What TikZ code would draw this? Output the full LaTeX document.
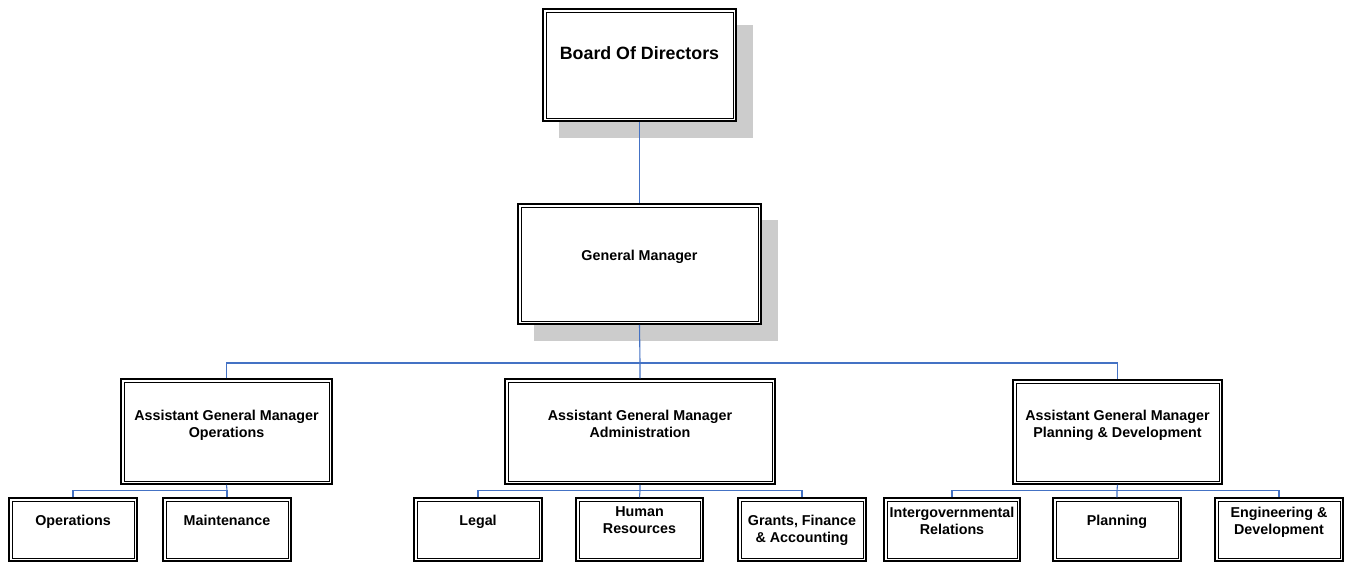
\documentclass[tikz,border=0pt]{standalone}
\usepackage{fontspec}
\setmainfont{Liberation Sans}
\usetikzlibrary{backgrounds}
\definecolor{linkblue}{RGB}{68,114,196}
\definecolor{shadowgray}{RGB}{204,204,204}
\newcommand{\boardfont}{\fontsize{17.8}{21}\selectfont\bfseries}
\newcommand{\unitfont}{\fontsize{14.3}{17}\selectfont\bfseries}

\begin{document}
\begin{tikzpicture}[x=1pt,y=-1pt,
  orgbox/.style 2 args={draw, fill=white, line width=1.5pt, inner sep=0pt,
    minimum width=#1, minimum height=#2,
    path picture={\draw[line width=0.9pt]
      ([xshift=3pt,yshift=-3pt]path picture bounding box.north west) rectangle
      ([xshift=-3pt,yshift=3pt]path picture bounding box.south east);}},
  lbl/.style={inner sep=0pt, align=center, font=\unitfont},
  conn/.style={draw=linkblue, line width=1.1pt},
  shadow/.style={fill=shadowgray}]

\useasboundingbox (0,0) rectangle (1346,563);

% top levels
\node[orgbox={193pt}{112pt}] (board) at (639.5,65) {};
\node[orgbox={243pt}{120pt}] (gm) at (639.5,264) {};

% assistant general managers
\node[orgbox={211pt}{105pt}] (ops) at (226.5,431.5) {};
\node[orgbox={270pt}{105pt}] (adm) at (640,431.5) {};
\node[orgbox={209pt}{104pt}] (pln) at (1117.5,432) {};

% departments
\node[orgbox={128pt}{63pt}] (opr) at (73,529.5) {};
\node[orgbox={128pt}{63pt}] (mnt) at (227,529.5) {};
\node[orgbox={128pt}{63pt}] (leg) at (478,529.5) {};
\node[orgbox={127pt}{63pt}] (hr) at (639.5,529.5) {};
\node[orgbox={128pt}{63pt}] (gfa) at (802,529.5) {};
\node[orgbox={136pt}{63pt}] (igr) at (952,529.5) {};
\node[orgbox={128pt}{63pt}] (plg) at (1117,529.5) {};
\node[orgbox={128pt}{63pt}] (eng) at (1279,529.5) {};

% drop shadows behind the two top boxes
\begin{scope}[on background layer]
  \fill[shadow] ([xshift=16.5pt,yshift=-16.5pt]board.south west) rectangle
                ([xshift=16.5pt,yshift=-16.5pt]board.north east);
  \fill[shadow] ([xshift=16.5pt,yshift=-16.5pt]gm.south west) rectangle
                ([xshift=16.5pt,yshift=-16.5pt]gm.north east);
\end{scope}

% labels
\node[lbl, font=\boardfont] (boardtxt) at (639.5,53) {Board Of Directors};
\node[lbl] (gmtxt) at (639.5,257) {General Manager};
\node[lbl] (opstxt) at (226.5,425.5) {Assistant General Manager\\Operations};
\node[lbl] (admtxt) at (640,423.5) {Assistant General Manager\\Administration};
\node[lbl] (plntxt) at (1117.5,425) {Assistant General Manager\\Planning \& Development};
\node[lbl] (oprtxt) at (73,522) {Operations};
\node[lbl] (mnttxt) at (227,520) {Maintenance};
\node[lbl] (legtxt) at (478,522) {Legal};
\node[lbl] (hrtxt) at (639.5,520) {Human\\Resources};
\node[lbl] (gfatxt) at (802,530.5) {Grants, Finance\\\& Accounting};
\node[lbl] (igrtxt) at (952,520.5) {Intergovernmental\\Relations};
\node[lbl] (plgtxt) at (1117,522) {Planning};
\node[lbl] (engtxt) at (1279,522.5) {Engineering \&\\Development};

% connectors
\coordinate (busA) at (640,363);
\coordinate (busOps) at (227,490.5);
\coordinate (busAdm) at (640,490.5);
\coordinate (busPln) at (1117,490.5);

\draw[conn] (board.south) -- (gm.north);
\draw[conn] (gm.south) -- (busA) -- (adm.north);
\draw[conn] (ops.north) |- (busA) -| (pln.north);

\draw[conn] (ops.south) -- (busOps);
\draw[conn] (opr.north) |- (busOps) -- (mnt.north);

\draw[conn] (adm.south) -- (busAdm) -- (hr.north);
\draw[conn] (leg.north) |- (busAdm) -| (gfa.north);

\draw[conn] (pln.south) -- (busPln) -- (plg.north);
\draw[conn] (igr.north) |- (busPln) -| (eng.north);
\end{tikzpicture}
\end{document}
